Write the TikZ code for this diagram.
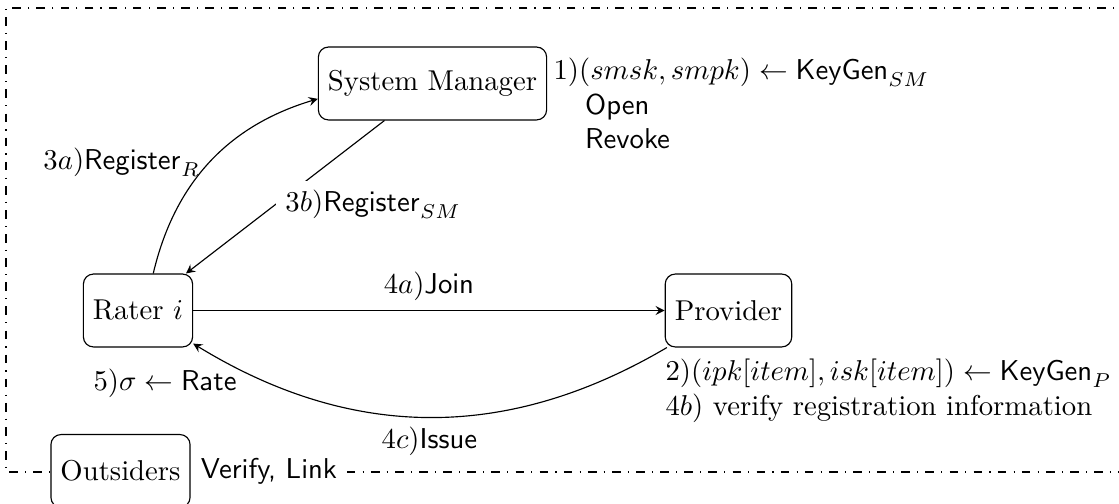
\documentclass[tikz,border=0pt]{standalone}
\usetikzlibrary{arrows}
\begin{document}
\begin{tikzpicture}[x=0.3484pt,y=0.3484pt,>=stealth,
  entity/.style={draw, rounded corners=3.5pt, minimum height=25.4pt, inner xsep=3.33pt, fill=white},
  frame/.style={dash pattern=on 3pt off 2.5pt on 0.4pt off 2.5pt},
  plain/.style={inner sep=0pt, align=left, anchor=north west}]
\useasboundingbox (0,0) rectangle (1119,504);
\clip (0,0) rectangle (1119,504);
\draw[frame] (1130,496) -- (6,496) -- (6,32) -- (1130,32);
\node[entity] (sm) at (432.5,420.5) {System Manager};
\node[entity] (rater) at (138,193.5) {Rater $i$};
\node[entity] (prov) at (728.5,193.5) {Provider};
\node[entity] (out) at (120.5,33) {Outsiders};
\node[fill=white, anchor=west, font=\sffamily] (vl) at (out.east) {Verify, Link};
\node[plain] (smtext) at (553,446.5) {$1)(smsk,smpk)\leftarrow\mathsf{KeyGen}_{SM}$\\\hspace{11pt}\textsf{Open}\\\hspace{11pt}\textsf{Revoke}};
\node[plain] (ptext) at (665,145.5) {$2)(ipk[item],isk[item])\leftarrow\mathsf{KeyGen}_{P}$\\$4b)$ verify registration information};
\node[inner sep=0pt, anchor=base west] (rate) at (93,113) {$5)\sigma\leftarrow\mathsf{Rate}$};
\draw[->] (rater) to[bend left=30] node[left] (l3a) {$3a)\mathsf{Register}_R$} (sm);
\draw[->] (sm) -- node[pos=0.55, anchor=west, fill=white] (l3b) {$3b)\mathsf{Register}_{SM}$} (rater);
\draw[->] (rater) -- node[above] (l4a) {$4a)\mathsf{Join}$} (prov);
\draw[->] (prov) to[bend left=31] node[below] (l4c) {$4c)\mathsf{Issue}$} (rater);
\end{tikzpicture}
\end{document}
